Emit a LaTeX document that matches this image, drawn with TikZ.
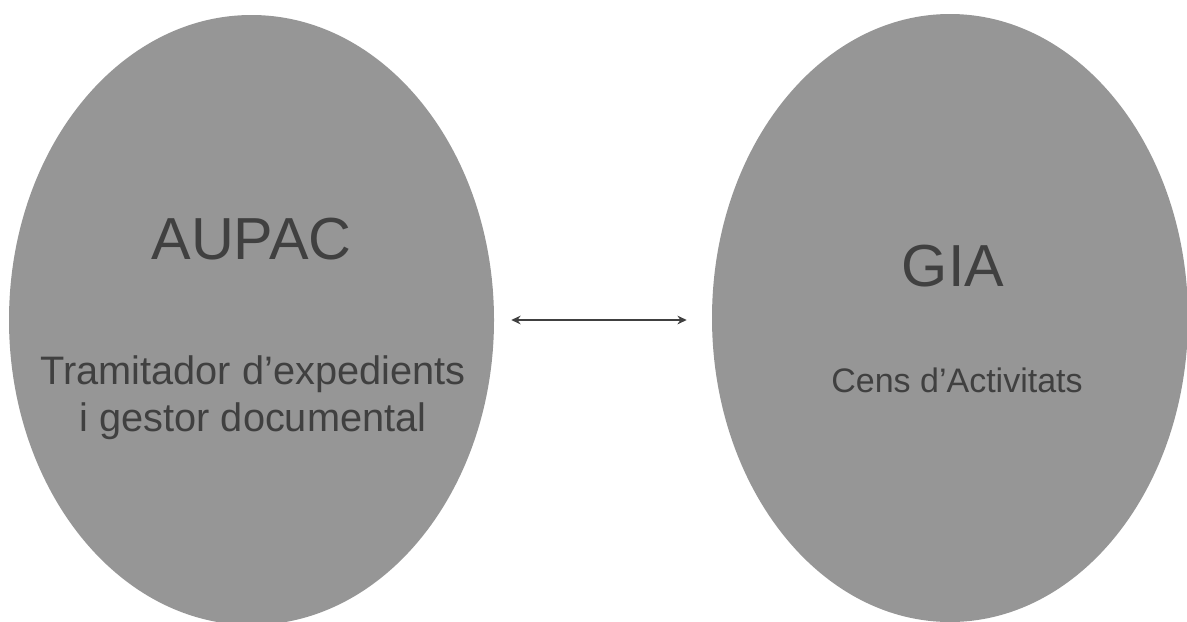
\documentclass[tikz,border=0pt]{standalone}
\usepackage{fontspec}
\setmainfont{Liberation Sans}
\usetikzlibrary{shapes.geometric,arrows.meta}

\definecolor{blobgray}{RGB}{150,150,150}
\definecolor{inkgray}{RGB}{64,64,64}

\tikzstyle{blob}=[ellipse, fill=blobgray, inner sep=0pt]
\tikzstyle{title}=[text=inkgray, anchor=base, font=\fontsize{44.5}{52}\selectfont]
\tikzstyle{subtitle}=[text=inkgray, anchor=base, align=center]
\tikzstyle{link}=[{Stealth[length=7pt,width=6.5pt]}-{Stealth[length=7pt,width=6.5pt]}, draw=inkgray, line width=1.7pt]

\begin{document}
\begin{tikzpicture}[x=0.75pt,y=-0.75pt]
\useasboundingbox (0,0) rectangle (1187,621);

\node[blob,minimum width=363.75pt,minimum height=457.5pt](aupac) at (251.5,320) {};
\node[blob,minimum width=357pt,minimum height=456pt](gia) at (950,318) {};

\node[title](aupactitle) at (251.5,259) {AUPAC};
\node[subtitle,font=\fontsize{29.8}{35.25}\selectfont](aupactext) at (253,431) {Tramitador d’expedients\\i gestor documental};

\node[title](giatitle) at (953,286) {GIA};
\node[subtitle,font=\fontsize{25.5}{30}\selectfont](giatext) at (957,392) {Cens d’Activitats};

\draw[link, shorten <=12.75pt, shorten >=18.75pt] (aupac.east) -- (aupac.east -| gia.west);
\end{tikzpicture}
\end{document}
